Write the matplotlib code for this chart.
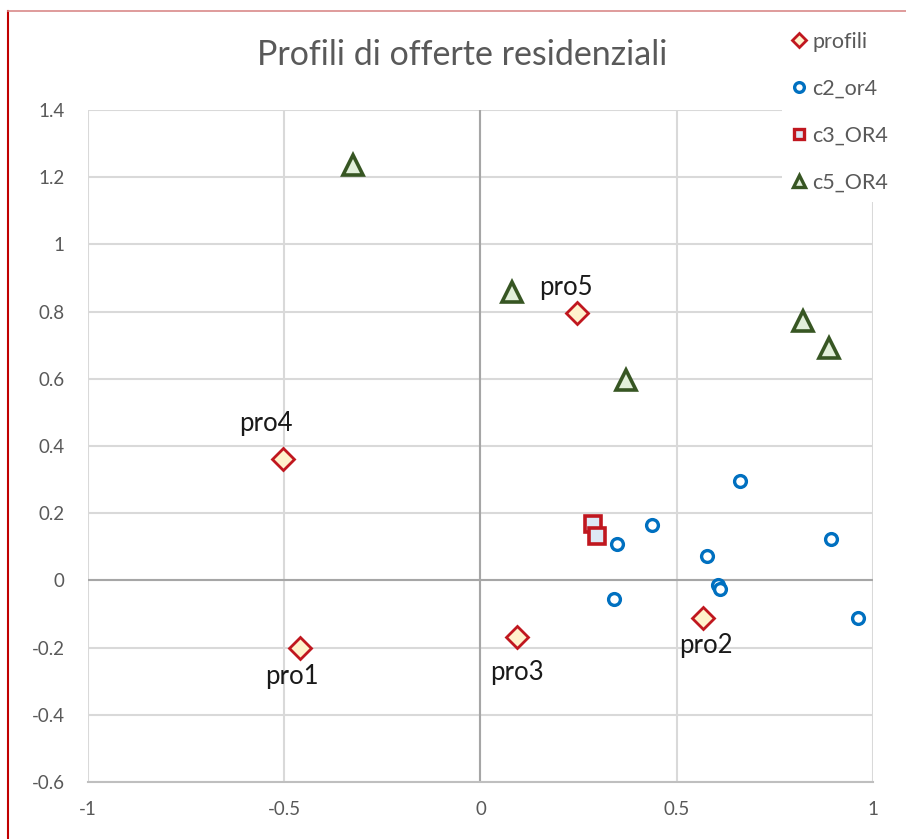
import matplotlib.pyplot as plt
from matplotlib.lines import Line2D

plt.rcParams['font.family'] = ['Lato', 'DejaVu Sans']

# profili (labelled diamonds)
pro_names = ["pro1", "pro2", "pro3", "pro4", "pro5"]
pro_x = [-0.461, 0.566, 0.094, -0.502, 0.247]
pro_y = [-0.201, -0.113, -0.168, 0.361, 0.795]

# c2_or4
c2_x = [0.660, 0.438, 0.349, 0.578, 0.894, 0.339, 0.604, 0.611, 0.963]
c2_y = [0.296, 0.165, 0.108, 0.072, 0.123, -0.055, -0.013, -0.027, -0.113]

# c3_OR4
c3_x = [0.287, 0.296]
c3_y = [0.168, 0.132]

# c5_OR4
c5_x = [-0.326, 0.079, 0.371, 0.822, 0.887]
c5_y = [1.237, 0.857, 0.595, 0.773, 0.691]

xticks = [-1, -0.5, 0, 0.5, 1]
xtick_labels = ["-1", "-0.5", "0", "0.5", "1"]
yticks = [-0.6, -0.4, -0.2, 0, 0.2, 0.4, 0.6, 0.8, 1, 1.2, 1.4]
ytick_labels = ["-0.6", "-0.4", "-0.2", "0", "0.2", "0.4", "0.6", "0.8", "1", "1.2", "1.4"]

# label offsets in pixels (dx, dy) relative to marker
label_offsets = {"pro1": (-8, -29), "pro2": (3, -27), "pro3": (0, -36),
                 "pro4": (-18, 36), "pro5": (-12, 26)}

W, H = 906, 839
fig = plt.figure(figsize=(W / 100, H / 100), dpi=100)
ax = fig.add_axes([88 / W, 1 - 782 / H, (873 - 88) / W, (782 - 110) / H])

ax.set_xlim(-1, 1)
ax.set_ylim(-0.6, 1.4)
ax.set_xticks(xticks)
ax.set_xticklabels(xtick_labels)
ax.set_yticks(yticks)
ax.set_yticklabels(ytick_labels)
ax.tick_params(length=0, labelsize=13.5, colors="#595959")
ax.tick_params(axis="x", pad=14)
ax.tick_params(axis="y", pad=17)
ax.grid(True, color="#d9d9d9", linewidth=1.5, zorder=0)
ax.set_axisbelow(True)
for s in ax.spines.values():
    s.set_visible(False)
ax.spines["bottom"].set_visible(True)
ax.spines["bottom"].set_color("#bfbfbf")
ax.spines["bottom"].set_linewidth(1.5)
ax.axhline(0, color="#a6a6a6", linewidth=1.5, zorder=1)
ax.axvline(0, color="#a6a6a6", linewidth=1.5, zorder=1)

ax.plot(c5_x, c5_y, linestyle="none", marker="^", markersize=14,
        markerfacecolor="#e2efda", markeredgecolor="#375623", markeredgewidth=2.6,
        label="c5_OR4", zorder=3)
ax.plot(c3_x, c3_y, linestyle="none", marker="s", markersize=11,
        markerfacecolor="#dde8f5", markeredgecolor="#c0171f", markeredgewidth=2.6,
        label="c3_OR4", zorder=3)
ax.plot(c2_x, c2_y, linestyle="none", marker="o", markersize=8.5,
        markerfacecolor="white", markeredgecolor="#0070c0", markeredgewidth=2.4,
        label="c2_or4", zorder=3)
ax.plot(pro_x, pro_y, linestyle="none", marker="D", markersize=11.5,
        markerfacecolor="#fff2cc", markeredgecolor="#c0171f", markeredgewidth=2.0,
        label="profili", zorder=4)

for name, x, y in zip(pro_names, pro_x, pro_y):
    dx, dy = label_offsets[name]
    ax.annotate(name, (x, y), xytext=(dx, dy), textcoords="offset pixels",
                ha="center", va="center", fontsize=18.5, color="#1a1a1a")

fig.text(462 / W, 1 - 55 / H, "Profili di offerte residenziali",
         ha="center", va="center", fontsize=24.5, color="#595959")

handles = [
    Line2D([], [], linestyle="none", marker="D", markersize=7.5, markerfacecolor="#fff2cc",
           markeredgecolor="#c0171f", markeredgewidth=2.0),
    Line2D([], [], linestyle="none", marker="o", markersize=7, markerfacecolor="white",
           markeredgecolor="#0070c0", markeredgewidth=2.4),
    Line2D([], [], linestyle="none", marker="s", markersize=7.5, markerfacecolor="#dde8f5",
           markeredgecolor="#c0171f", markeredgewidth=2.4),
    Line2D([], [], linestyle="none", marker="^", markersize=8.5, markerfacecolor="#e2efda",
           markeredgecolor="#375623", markeredgewidth=2.4),
]
leg = fig.legend(handles, ["profili", "c2_or4", "c3_OR4", "c5_OR4"],
                 loc="upper left", bbox_to_anchor=(782 / W, 1 - 22 / H),
                 frameon=True, facecolor="white", edgecolor="none", framealpha=1,
                 fontsize=15.5, labelcolor="#595959", labelspacing=1.25,
                 handlelength=0.7, handletextpad=0.25, borderpad=0.45, borderaxespad=0)
leg.get_frame().set_boxstyle("square", pad=0)

# chart border (red frame, partly visible)
fig.add_artist(Line2D([8 / W, 8 / W], [0, 1 - 11 / H], transform=fig.transFigure,
                      color="#c00000", linewidth=1.5))
fig.add_artist(Line2D([8 / W, 1], [1 - 11 / H, 1 - 11 / H], transform=fig.transFigure,
                      color="#d98a8a", linewidth=1.2))

fig.savefig("out.png", dpi=100)
